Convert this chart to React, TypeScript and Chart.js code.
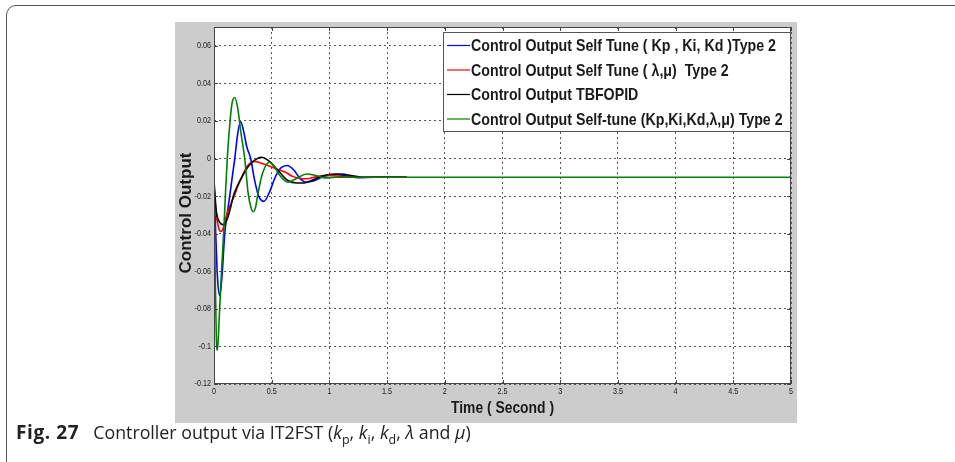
import React, { useEffect, useRef } from 'react';
import { Chart, registerables } from 'chart.js';
Chart.register(...registerables);

// ---- data ----
const tBlue = [0, 0.015, 0.03, 0.05, 0.07, 0.093, 0.115, 0.136, 0.16, 0.18, 0.205, 0.23, 0.255, 0.285, 0.318, 0.35, 0.387, 0.433, 0.48, 0.53, 0.58, 0.635, 0.69, 0.75, 0.8, 0.86, 0.95, 1.05, 1.15, 1.25, 1.4, 1.67];
const vBlue = [-0.012, -0.04, -0.063, -0.073, -0.062, -0.04, -0.029, -0.02, -0.009, 0, 0.013, 0.0197, 0.015, 0.006, 0, -0.011, -0.02, -0.0228, -0.018, -0.01, -0.005, -0.0037, -0.006, -0.011, -0.0126, -0.012, -0.0095, -0.0085, -0.0093, -0.0102, -0.01, -0.01];

const tRed = [0, 0.02, 0.04, 0.058, 0.08, 0.11, 0.14, 0.175, 0.21, 0.24, 0.29, 0.35, 0.41, 0.48, 0.55, 0.62, 0.68, 0.74, 0.8, 0.9, 1.0, 1.15, 1.3, 1.67];
const vRed = [-0.015, -0.03, -0.037, -0.0388, -0.037, -0.03, -0.025, -0.02, -0.014, -0.01, -0.004, -0.0015, -0.0025, -0.004, -0.0058, -0.0073, -0.0095, -0.0105, -0.0108, -0.0095, -0.009, -0.0098, -0.01, -0.01];

const tBlack = [0, 0.02, 0.05, 0.078, 0.11, 0.14, 0.167, 0.2, 0.24, 0.3, 0.35, 0.41, 0.47, 0.55, 0.64, 0.72, 0.78, 0.85, 0.95, 1.05, 1.1, 1.2, 1.3, 1.67];
const vBlack = [-0.012, -0.028, -0.034, -0.0352, -0.033, -0.027, -0.02, -0.015, -0.01, -0.004, -0.001, 0.0007, -0.001, -0.006, -0.0117, -0.013, -0.013, -0.0115, -0.009, -0.0082, -0.0082, -0.0092, -0.01, -0.01];

const tGreen = [0, 0.01, 0.02, 0.03, 0.045, 0.065, 0.085, 0.1, 0.115, 0.135, 0.155, 0.18, 0.205, 0.235, 0.266, 0.295, 0.32, 0.34, 0.36, 0.38, 0.42, 0.48, 0.52, 0.57, 0.64, 0.72, 0.8, 0.88, 0.96, 1.05, 2, 3, 4, 5];
const vGreen = [-0.006, -0.06, -0.095, -0.102, -0.085, -0.06, -0.038, -0.018, 0, 0.017, 0.029, 0.0325, 0.027, 0.013, 0, -0.018, -0.026, -0.0283, -0.026, -0.019, -0.008, -0.002, -0.004, -0.009, -0.0126, -0.0105, -0.0082, -0.009, -0.0103, -0.01, -0.01, -0.01, -0.01, -0.01];

const seriesLabels = [
  'Control Output Self Tune ( Kp , Ki, Kd )Type 2',
  'Control Output Self Tune ( \u03BB,\u03BC)  Type 2',
  'Control Output TBFOPID',
  'Control Output Self-tune (Kp,Ki,Kd,\u03BB,\u03BC) Type 2',
];
const seriesColors = ['#0000ff', '#ff0000', '#000000', '#008000'];

const xTicks = [0, 0.5, 1, 1.5, 2, 2.5, 3, 3.5, 4, 4.5, 5];
const xTickLabels = ['0', '0.5', '1', '1.5', '2', '2.5', '3', '3.5', '4', '4.5', '5'];
const yTicks = [-0.12, -0.1, -0.08, -0.06, -0.04, -0.02, 0, 0.02, 0.04, 0.06];
const yTickLabels = ['-0.12', '-0.1', '-0.08', '-0.06', '-0.04', '-0.02', '0', '0.02', '0.04', '0.06'];

const xTitle = 'Time ( Second )';
const yTitle = 'Control Output';

const SANS = '"Liberation Sans", Arial, sans-serif';

function drawText(ctx: any, text: string, x: number, y: number, font: string, align: string, sx: number, rot = 0) {
  ctx.save();
  ctx.translate(x, y);
  if (rot) ctx.rotate(rot);
  ctx.scale(sx, 1);
  ctx.font = font;
  ctx.fillStyle = '#1a1a1a';
  ctx.textAlign = align;
  ctx.textBaseline = 'middle';
  ctx.fillText(text, 0, 0);
  ctx.restore();
}

const framePlugin = {
  id: 'framePlugin',
  beforeDraw(chart: any) {
    const { ctx, chartArea: a } = chart;
    ctx.save();
    ctx.fillStyle = '#ffffff';
    ctx.fillRect(a.left, a.top, a.right - a.left, a.bottom - a.top);
    ctx.restore();
  },
  afterDatasetsDraw(chart: any) {
    const { ctx, chartArea: a, scales } = chart;
    ctx.save();
    ctx.strokeStyle = '#444';
    ctx.lineWidth = 1;
    ctx.strokeRect(a.left + 0.5, a.top + 0.5, a.right - a.left - 1, a.bottom - a.top - 1);
    // inward tick marks
    ctx.beginPath();
    xTicks.forEach((v) => {
      const x = Math.round(scales.x.getPixelForValue(v)) + 0.5;
      ctx.moveTo(x, a.bottom); ctx.lineTo(x, a.bottom - 4);
      ctx.moveTo(x, a.top); ctx.lineTo(x, a.top + 4);
    });
    yTicks.forEach((v) => {
      const y = Math.round(scales.y.getPixelForValue(v)) + 0.5;
      ctx.moveTo(a.left, y); ctx.lineTo(a.left + 4, y);
      ctx.moveTo(a.right, y); ctx.lineTo(a.right - 4, y);
    });
    ctx.stroke();

    // tick labels (condensed)
    const tickFont = '9px ' + SANS;
    xTicks.forEach((v, i) => {
      drawText(ctx, xTickLabels[i], scales.x.getPixelForValue(v), a.bottom + 8, tickFont, 'center', 0.8);
    });
    yTicks.forEach((v, i) => {
      drawText(ctx, yTickLabels[i], a.left - 3, scales.y.getPixelForValue(v), tickFont, 'right', 0.8);
    });

    // axis titles
    const titleFont = 'bold 17px ' + SANS;
    ctx.font = titleFont;
    const wx = ctx.measureText(xTitle).width;
    drawText(ctx, xTitle, (a.left + a.right) / 2, a.bottom + 24, titleFont, 'center', 103 / wx);
    drawText(ctx, yTitle, 11, 191, titleFont, 'center', 1, -Math.PI / 2);

    // legend box
    const bx = 268, by = 10, bw = 347, bh = 99;
    ctx.fillStyle = '#ffffff';
    ctx.fillRect(bx, by, bw, bh);
    ctx.strokeStyle = '#555';
    ctx.lineWidth = 1;
    ctx.strokeRect(bx + 0.5, by + 0.5, bw, bh);
    const ds = chart.data.datasets;
    const legendFont = 'bold 17px ' + SANS;
    ctx.font = legendFont;
    const w0 = ctx.measureText(ds[0].label).width;
    const sx = 305 / w0;
    ds.forEach((d: any, i: number) => {
      const y = 23.5 + i * 24.5;
      ctx.strokeStyle = d.borderColor;
      ctx.lineWidth = 1.2;
      ctx.beginPath();
      ctx.moveTo(272, y); ctx.lineTo(295, y);
      ctx.stroke();
      drawText(ctx, d.label, 296, y + 1, legendFont, 'left', sx);
    });
    ctx.restore();
  },
};

export default function App() {
  const ref = useRef<HTMLCanvasElement | null>(null);
  useEffect(() => {
    if (!ref.current) return;
    const mk = (ts: number[], vs: number[]) => ts.map((t, i) => ({ x: t, y: vs[i] }));
    const series = [mk(tBlue, vBlue), mk(tRed, vRed), mk(tBlack, vBlack), mk(tGreen, vGreen)];
    const chart = new Chart(ref.current, {
      type: 'line',
      data: {
        datasets: series.map((data, i) => ({
          label: seriesLabels[i],
          data,
          borderColor: seriesColors[i],
          backgroundColor: seriesColors[i],
          borderWidth: 1.6,
          pointRadius: 0,
          fill: false,
          cubicInterpolationMode: 'monotone' as const,
          order: 4 - i,
        })),
      },
      options: {
        animation: false,
        responsive: true,
        maintainAspectRatio: false,
        layout: { padding: { top: 5, right: 6, left: 0, bottom: 0 } },
        plugins: { legend: { display: false }, tooltip: { enabled: false } },
        scales: {
          x: {
            type: 'linear',
            min: 0,
            max: 5,
            afterBuildTicks: (s: any) => { s.ticks = xTicks.map((v) => ({ value: v })); },
            afterFit: (s: any) => { s.height = 39; },
            ticks: { display: false, autoSkip: false, maxRotation: 0 },
            grid: { color: '#555', lineWidth: 1, drawTicks: false },
            border: { display: false, dash: [2, 3] },
            title: { display: false, text: xTitle },
          },
          y: {
            type: 'linear',
            min: -0.12,
            max: 0.07,
            afterBuildTicks: (s: any) => { s.ticks = yTicks.map((v) => ({ value: v })); },
            afterFit: (s: any) => { s.width = 39; },
            ticks: { display: false, autoSkip: false },
            grid: { color: '#555', lineWidth: 1, drawTicks: false },
            border: { display: false, dash: [2, 3] },
            title: { display: false, text: yTitle },
          },
        },
      },
      plugins: [framePlugin],
    });
    return () => chart.destroy();
  }, []);

  return (
    <div style={{ position: 'fixed', left: 0, top: 0, width: 955, height: 462, overflow: 'hidden', background: '#fff' }}>
      <div
        style={{
          position: 'absolute', left: 6, top: 5, width: 1000, height: 470,
          border: '1.5px solid #555', borderRadius: '10px', boxSizing: 'border-box',
        }}
      />
      <div style={{ position: 'absolute', left: 175, top: 22, width: 622, height: 401, background: '#cccccc' }}>
        <canvas ref={ref} />
      </div>
      <div
        style={{
          position: 'absolute', left: 16, top: 419, whiteSpace: 'nowrap',
          fontFamily: '"Open Sans", "Noto Sans", sans-serif', fontSize: 17.8, color: '#222',
        }}
      >
        <b style={{ fontSize: 19, letterSpacing: 0.6 }}>Fig. 27</b>
        <span style={{ marginLeft: 14 }}>Controller output via IT2FST (<i>k</i><sub style={{ fontSize: '0.7em' }}>p</sub>, <i>k</i><sub style={{ fontSize: '0.7em' }}>i</sub>, <i>k</i><sub style={{ fontSize: '0.7em' }}>d</sub>, <i>{'\u03BB'}</i> and <i>{'\u03BC'}</i>)</span>
      </div>
    </div>
  );
}
